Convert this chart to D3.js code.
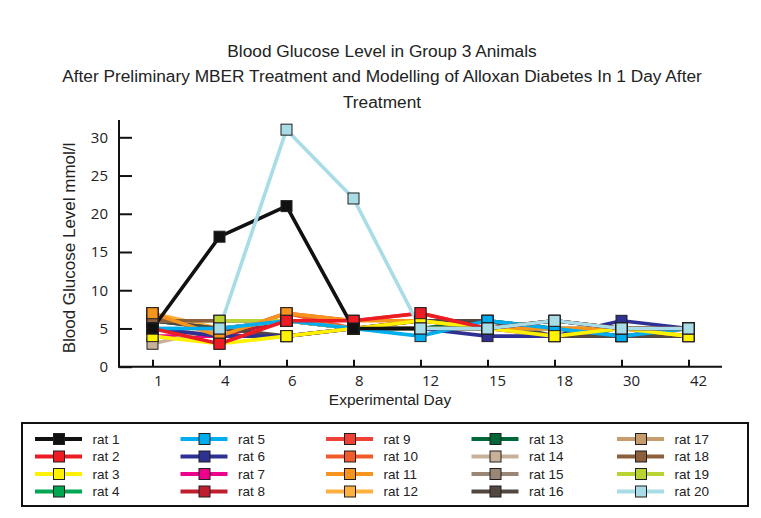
<!DOCTYPE html>
<html>
<head>
<meta charset="utf-8">
<script src="https://cdn.jsdelivr.net/npm/d3@7"></script>
<style>
  html, body { margin: 0; padding: 0; background: #fff; }
  svg { display: block; }
</style>
</head>
<body>
<svg id="chart" width="761" height="518"></svg>
<script>
// ---------------- DATA ----------------
const titleLines = [
  "Blood Glucose Level in Group 3 Animals",
  "After Preliminary MBER Treatment and Modelling of Alloxan Diabetes In 1 Day After",
  "Treatment"
];
const xTitle = "Experimental Day";
const yTitle = "Blood Glucose Level mmol/l";
const days = ["1", "4", "6", "8", "12", "15", "18", "30", "42"];
const yTicks = [0, 5, 10, 15, 20, 25, 30];
const ratNames = ["rat 1","rat 2","rat 3","rat 4","rat 5","rat 6","rat 7","rat 8","rat 9","rat 10",
                  "rat 11","rat 12","rat 13","rat 14","rat 15","rat 16","rat 17","rat 18","rat 19","rat 20"];
const ratColors = ["#111111","#ed1c24","#fff200","#00a651","#00aeef","#2e3192","#ec008c","#be1e2d","#ef4136","#f15a29",
                   "#f7941d","#fbb040","#006838","#c7b299","#998675","#534741","#c69c6d","#8b5e3c","#b9d432","#a8dce6"];

// glucose (mmol/l) per rat, one value per experimental day
const rat1  = [5, 17, 21, 5, 5, 5, 6, 5, 5];
const rat2  = [5, 3, 6, 6, 7, 5, 6, 5, 5];
const rat3  = [4, 3, 4, 5, 6, 5, 4, 5, 4];
const rat4  = [6, 5, 6, 5, 5, 6, 5, 4, 5];
const rat5  = [5, 5, 6, 5, 4, 6, 5, 4, 5];
const rat6  = [5, 4, 4, 5, 5, 4, 4, 6, 5];
const rat7  = [4, 4, 4, 5, 5, 5, 5, 5, 5];
const rat8  = [5, 4, 6, 5, 6, 5, 4, 5, 4];
const rat9  = [7, 4, 7, 6, 7, 5, 5, 5, 5];
const rat10 = [7, 4, 7, 5, 6, 5, 5, 4, 5];
const rat11 = [7, 4, 7, 6, 6, 5, 5, 5, 4];
const rat12 = [7, 5, 6, 5, 5, 5, 5, 5, 5];
const rat13 = [6, 5, 6, 5, 5, 6, 5, 4, 4];
const rat14 = [3, 5, 6, 5, 5, 5, 5, 5, 5];
const rat15 = [5, 5, 6, 5, 5, 5, 5, 5, 5];
const rat16 = [6, 5, 4, 5, 6, 6, 4, 4, 4];
const rat17 = [6, 6, 6, 5, 5, 5, 5, 5, 5];
const rat18 = [6, 6, 6, 5, 5, 5, 6, 5, 5];
const rat19 = [null, 6, 6, 5, 5, 5, 5, 5, 5];
const rat20 = [null, 5, 31, 22, 5, 5, 6, 5, 5];
const ratValues = [rat1,rat2,rat3,rat4,rat5,rat6,rat7,rat8,rat9,rat10,
                   rat11,rat12,rat13,rat14,rat15,rat16,rat17,rat18,rat19,rat20];
// stacking order of series (bottom -> top), rat numbers
const drawOrder = [4,7,8,9,10,12,13,15,16,17,18,14,19,6,11,5,3,2,1,20];

// ---------------- CHART ----------------
const svg = d3.select("#chart");
const textFont = "'Liberation Sans', Arial, sans-serif";
const tickFont = "'Open Sans', 'Liberation Sans', sans-serif";

const plot = { left: 119, right: 722, top: 120, bottom: 366.7 };
const x = d3.scalePoint().domain(days).range([plot.left, plot.right]).padding(0.5);
const y = d3.scaleLinear().domain([0, 30]).range([plot.bottom, 137.3]);

// title
svg.append("g").selectAll("text").data(titleLines).join("text")
  .attr("x", 382).attr("y", (d, i) => 56.5 + i * 25.5)
  .attr("text-anchor", "middle")
  .style("font-family", textFont).style("font-size", "17.3px").style("fill", "#222")
  .text(d => d);

// axes
const yAxis = d3.axisLeft(y).tickValues(yTicks).tickSizeInner(-13).tickSizeOuter(0).tickPadding(11);
const gy = svg.append("g").attr("transform", `translate(${plot.left},0)`).call(yAxis);
gy.select(".domain").remove();
gy.selectAll(".tick line").attr("stroke", "#111").attr("stroke-width", 2);
gy.selectAll(".tick text").style("font-family", tickFont).style("font-size", "15px").style("fill", "#222");

const xAxis = d3.axisBottom(x).tickSizeInner(-7).tickSizeOuter(0).tickPadding(9);
const gx = svg.append("g").attr("transform", `translate(0,${plot.bottom})`).call(xAxis);
gx.select(".domain").remove();
gx.selectAll(".tick line").attr("stroke", "#111").attr("stroke-width", 2);
gx.selectAll(".tick text").attr("text-anchor", "start").attr("x", 1)
  .style("font-family", tickFont).style("font-size", "15px").style("fill", "#222");

// axis lines
svg.append("path")
  .attr("d", `M${plot.left},${plot.top}V${plot.bottom}H${plot.right}`)
  .attr("fill", "none").attr("stroke", "#111").attr("stroke-width", 2);

// axis titles
svg.append("text").attr("x", 390).attr("y", 405).attr("text-anchor", "middle")
  .style("font-family", textFont).style("font-size", "15.5px").style("fill", "#222").text(xTitle);
svg.append("text").attr("transform", "translate(75,248) rotate(-90)").attr("text-anchor", "middle")
  .style("font-family", textFont).style("font-size", "17px").style("fill", "#222").text(yTitle);

// series
const series = drawOrder.map(n => ({
  name: ratNames[n - 1], color: ratColors[n - 1],
  points: days.map((d, i) => ({ day: d, v: ratValues[n - 1][i] }))
}));
const line = d3.line().defined(p => p.v != null).x(p => x(p.day)).y(p => y(p.v));

svg.append("g").selectAll("path").data(series).join("path")
  .attr("d", s => line(s.points))
  .attr("fill", "none").attr("stroke", s => s.color)
  .attr("stroke-width", 3.6).attr("stroke-linejoin", "round");

const ms = 11;
const mg = svg.append("g");
series.forEach(s => {
  mg.append("g").selectAll("rect").data(s.points.filter(p => p.v != null)).join("rect")
    .attr("x", p => x(p.day) - ms / 2).attr("y", p => y(p.v) - ms / 2)
    .attr("width", ms).attr("height", ms)
    .attr("fill", s.color).attr("stroke", "#231f20").attr("stroke-width", 1);
});

// legend
svg.append("rect").attr("x", 22).attr("y", 423).attr("width", 726).attr("height", 83)
  .attr("fill", "#fff").attr("stroke", "#111").attr("stroke-width", 2);
const lg = svg.append("g").selectAll("g").data(ratNames).join("g")
  .attr("transform", (d, i) => `translate(${35 + Math.floor(i / 4) * 145.5},${439 + (i % 4) * 17.5})`);
lg.append("line").attr("x1", 0).attr("x2", 47).attr("y1", 0).attr("y2", 0)
  .attr("stroke", (d, i) => ratColors[i]).attr("stroke-width", 4);
lg.append("rect").attr("x", 24 - 5.5).attr("y", -5.5).attr("width", 11).attr("height", 11)
  .attr("fill", (d, i) => ratColors[i]).attr("stroke", "#231f20").attr("stroke-width", 1);
lg.append("text").attr("x", 57.5).attr("y", 0).attr("dy", "0.35em")
  .style("font-family", textFont).style("font-size", "13.5px").style("fill", "#222")
  .text(d => d);
</script>
</body>
</html>
